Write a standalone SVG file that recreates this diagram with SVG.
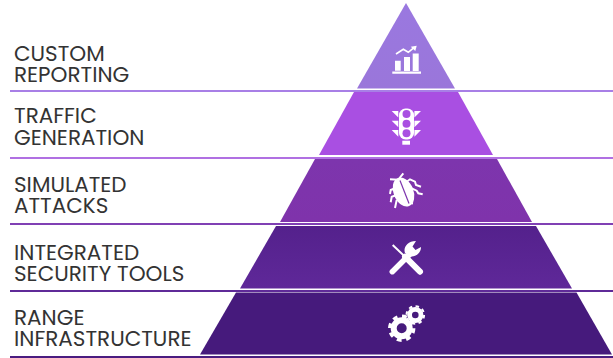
<svg xmlns="http://www.w3.org/2000/svg" width="613" height="358" viewBox="0 0 613 358">
<defs>
<linearGradient id="g1" x1="0" y1="0" x2="0" y2="1"><stop offset="0" stop-color="#9a78e0"/><stop offset="1" stop-color="#9a76da"/></linearGradient>
<linearGradient id="g3" x1="0" y1="0" x2="0" y2="1"><stop offset="0" stop-color="#7d35ad"/><stop offset="1" stop-color="#7f33ab"/></linearGradient>
<linearGradient id="g4" x1="0" y1="0" x2="0" y2="1"><stop offset="0" stop-color="#54218c"/><stop offset="1" stop-color="#5f2899"/></linearGradient>
</defs>
<style>
.t{font-family:"Poppins","Lato","Liberation Sans",sans-serif;font-size:21.5px;fill:#333}
.i{fill:#fff}
.is{fill:none;stroke:#fff}
</style>
<g id="connectors" fill="none" stroke-width="2">
<path d="M10 91H613" stroke="#a87fe6"/>
<path d="M10 158H613" stroke="#b070e2"/>
<path d="M10 224H613" stroke="#8040b4"/>
<path d="M10 291H613" stroke="#5f2a98"/>
<path d="M10 357H613" stroke="#4a1c80"/>
</g>
<g id="node-reporting">
<polygon points="406,3 357,88.500 455,88.500" fill="url(#g1)"/>
<text class="t" x="14" y="60.500">CUSTOM</text><text class="t" x="14" y="82">REPORTING</text>
<path class="i" d="M392.300 71.500h28.700v2.200h-28.700zM395 60.700h5.700v10h-5.700zM404 57h6v14h-6zM412.700 53.500h6v17.500h-6z"/>
<path class="is" stroke-width="1.700" d="M396 54l7.300-4.700 5 3 5.700-4.600"/>
<path class="i" d="M410.700 46.700l6-1-1.400 5.300z"/>
</g>
<g id="node-traffic">
<polygon points="354,92 458,92 493,155 319,155" fill="#a94fe2"/>
<text class="t" x="14" y="122.700">TRAFFIC</text><text class="t" x="14" y="145">GENERATION</text>
<rect class="i" x="399" y="108.500" width="15" height="31" rx="6.500"/>
<rect class="i" x="402.300" y="140.700" width="7.700" height="4"/>
<circle cx="406.500" cy="114" r="4" fill="#a94fe2"/><circle cx="406.500" cy="123.700" r="4" fill="#a94fe2"/><circle cx="406.500" cy="133.300" r="4" fill="#a94fe2"/>
<path class="i" d="M391.700 111h6.600v6.500zM391.700 120.700h6.600v6.600zM391.700 130h6.600v6.700zM421 111h-6.600v6.500zM421 120.700h-6.600v6.600zM421 130h-6.600v6.700z"/>
</g>
<g id="node-attacks">
<polygon points="315,159 497,159 532,222 280,222" fill="url(#g3)"/>
<text class="t" x="14" y="192">SIMULATED</text><text class="t" x="14" y="213">ATTACKS</text>
<ellipse class="i" cx="403.500" cy="192" rx="10" ry="15" transform="rotate(-22 403.500 192)"/>
<path class="is" stroke-width="2" d="M390 179.300l11.700.7M403.300 173.300l-5.300 6.700M395 188.300l-4.300 1.700-.7 4M396.700 195l-5 1.700-1 5.500M396.700 200l-1.700 8M406.700 181.700l3.300-2.400 5 2.400 1 3.300 5 1.700M411.700 188.300l5 2.400 1.600 2.600 4.400 1M409 202.700l4 .8"/>
<path d="M400 180.500l9 23" stroke="#7d35ad" stroke-width="1.200" fill="none"/>
</g>
<g id="node-tools">
<polygon points="276,226 536,226 572,288.500 240,288.500" fill="url(#g4)"/>
<text class="t" x="14" y="260">INTEGRATED</text><text class="t" x="14" y="281">SECURITY TOOLS</text>
<path class="is" stroke-width="2" d="M392.700 245l12.300 11.700"/>
<path class="is" stroke-linecap="round" stroke-width="6" d="M405 256.700l15 15"/>
<path class="is" stroke-linecap="round" stroke-width="5.500" d="M392.300 271.700l17-17"/>
<path class="i" d="M416 241L412.500 246.500L415.500 250L421 247C421 254 414 258 409 256L405 253C403 248 407 241 416 241z"/>
</g>
<g id="node-range">
<polygon points="236,292.500 576.500,292.500 612,354.500 200,354.500" fill="#461a7c"/>
<text class="t" x="14" y="325">RANGE</text><text class="t" x="14" y="346">INFRASTRUCTURE</text>
<circle class="is" cx="401.700" cy="328.300" r="8" stroke-width="6"/>
<circle class="is" cx="401.700" cy="328.300" r="12" stroke-width="3.400" stroke-dasharray="4.800 4.620"/>
<circle class="is" cx="415.300" cy="315" r="5.700" stroke-width="4.800"/>
<circle class="is" cx="415.300" cy="315" r="8.800" stroke-width="2" stroke-dasharray="3.500 3.410"/>
</g>
</svg>
